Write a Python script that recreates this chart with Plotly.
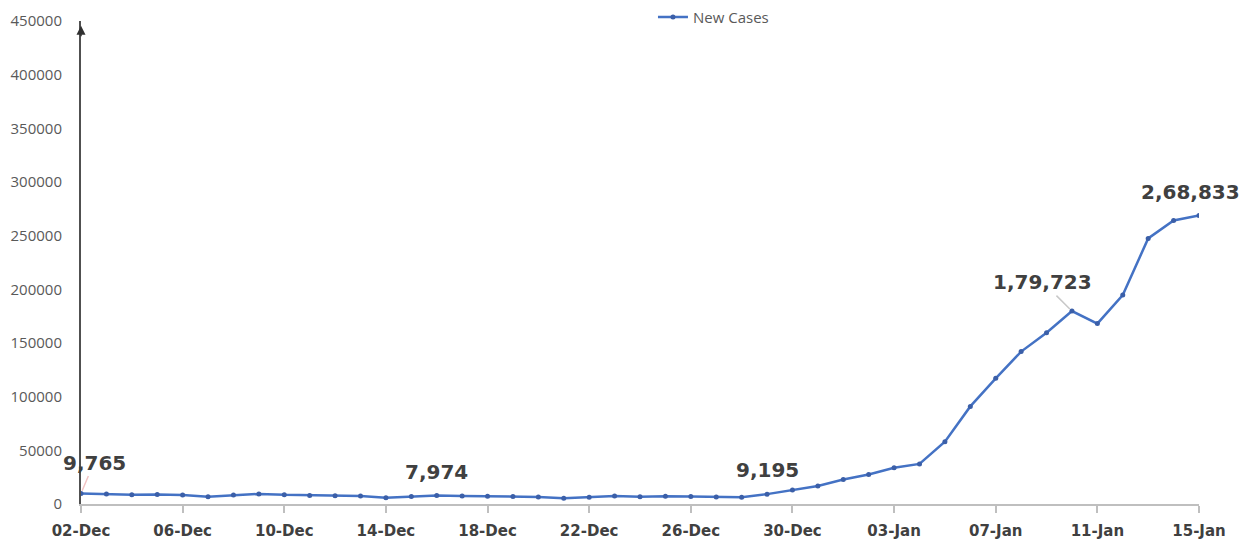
import pandas as pd
import plotly.graph_objects as go

dates = pd.date_range("2021-12-02", "2022-01-15").strftime("%d-%b").tolist()
new_cases = [9765, 9216, 8603, 8895, 8306, 6822, 8439, 9419, 8503, 7992,
             7774, 7350, 5784, 6984, 7974, 7447, 7145, 7081, 6563, 5326,
             6317, 7495, 6650, 7189, 6987, 6531, 6358, 9195, 13154, 16764,
             22775, 27553, 33750, 37379, 58097, 90928, 117100, 141986, 159632, 179723,
             168063, 194720, 247417, 264202, 268833]
tick_labels = dates[::4]
y_ticks = list(range(0, 450001, 50000))

# labelled points: index, text, pixel offset of label, leader colour
labels = [
    (0, "9,765", 13, -31, "#f2c4c4"),
    (14, "7,974", 0, -23, "rgba(0,0,0,0)"),
    (27, "9,195", 0, -24, "rgba(0,0,0,0)"),
    (39, "1,79,723", -29, -29, "#c8c8c8"),
    (44, "2,68,833", -9, -23, "rgba(0,0,0,0)"),
]

idx = list(range(len(dates)))
fig = go.Figure()
fig.add_trace(go.Scatter(
    x=idx, y=new_cases, mode="lines+markers", name="New Cases",
    line=dict(color="#4472C4", width=2.5),
    marker=dict(color="#3B5FA8", size=5),
))

for i, txt, ax, ay, col in labels:
    fig.add_annotation(x=i, y=new_cases[i], text=txt, showarrow=True,
                       ax=ax, ay=ay, arrowhead=0, arrowwidth=1.5, arrowcolor=col,
                       standoff=3,
                       font=dict(family="DejaVu Sans", size=20, color="#404040", weight="bold"))

# arrow head on y axis
fig.add_annotation(xref="paper", yref="paper", x=0, y=0.99, ax=0, ay=12,
                   text="", showarrow=True, arrowhead=2, arrowsize=1.2,
                   arrowwidth=1.5, arrowcolor="#303030")

fig.update_layout(
    width=1239, height=543,
    margin=dict(l=81, r=40, t=21, b=39, autoexpand=False),
    plot_bgcolor="white", paper_bgcolor="white",
    showlegend=True,
    legend=dict(orientation="h", x=0.5116, xanchor="left", y=1.008, yanchor="middle",
                font=dict(family="Open Sans", size=15, color="#595959"),
                bgcolor="rgba(0,0,0,0)"),
    xaxis=dict(range=[0, 44], tickvals=idx[::4], ticktext=tick_labels,
               showline=True, linecolor="#bfbfbf", linewidth=1.5,
               ticks="outside", ticklen=7, tickcolor="#bfbfbf", tickwidth=1.5,
               showgrid=False, zeroline=False, automargin=False,
               ticklabelstandoff=5,
               tickfont=dict(family="DejaVu Sans", size=15, color="#404040", weight="bold")),
    yaxis=dict(range=[0, 450000], tickvals=y_ticks, tickformat="d",
               showline=True, linecolor="#505050", linewidth=2,
               showgrid=False, zeroline=False, ticks="", automargin=False,
               ticklabelstandoff=14,
               tickfont=dict(family="Open Sans", size=15, color="#595959")),
)
fig.write_html("out.html")
